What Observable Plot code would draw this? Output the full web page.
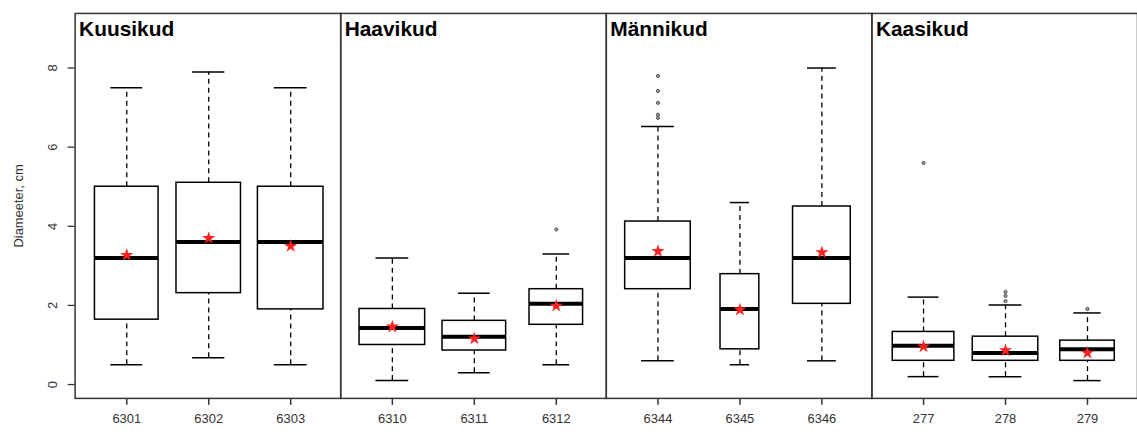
<!DOCTYPE html>
<html><head><meta charset="utf-8">
<script src="https://cdn.jsdelivr.net/npm/d3@7"></script>
<script src="https://cdn.jsdelivr.net/npm/@observablehq/plot@0.6"></script>
<style>html,body{margin:0;padding:0;overflow:hidden;background:#fff}</style>
</head><body><div id="chart"></div>
<script>
// Groups (forest types) and the sites (plots) within them
const groups = ["Kuusikud", "Haavikud", "Männikud", "Kaasikud"];
const sites = ["6301", "6302", "6303", "6310", "6311", "6312", "6344", "6345", "6346", "277", "278", "279"];
const siteGroup = ["Kuusikud", "Kuusikud", "Kuusikud", "Haavikud", "Haavikud", "Haavikud",
                   "Männikud", "Männikud", "Männikud", "Kaasikud", "Kaasikud", "Kaasikud"];
// Box statistics (diameter, cm)
const whiskerLow  = [0.5, 0.68, 0.5, 0.1, 0.3, 0.5, 0.6, 0.5, 0.6, 0.2, 0.2, 0.1];
const quart1      = [1.64, 2.31, 1.9, 1.0, 0.86, 1.51, 2.41, 0.89, 2.04, 0.6, 0.6, 0.6];
const medians     = [3.2, 3.6, 3.6, 1.43, 1.21, 2.04, 3.2, 1.91, 3.2, 0.98, 0.8, 0.89];
const quart3      = [5.0, 5.1, 5.0, 1.91, 1.61, 2.41, 4.12, 2.79, 4.5, 1.33, 1.21, 1.11];
const whiskerHigh = [7.5, 7.9, 7.5, 3.2, 2.31, 3.3, 6.52, 4.6, 8.0, 2.21, 2.01, 1.81];
const means       = [3.27, 3.7, 3.5, 1.46, 1.16, 1.99, 3.37, 1.89, 3.34, 0.96, 0.86, 0.8];
// Estimated relative sample sizes (box widths ~ sqrt(n), varwidth boxplot)
const sampleSize  = [113, 116, 120, 120, 113, 80, 120, 42, 93, 106, 120, 83];
// Outliers: site, value
const outlierSite  = ["6312", "6344", "6344", "6344", "6344", "6344", "277", "278", "278", "278", "279"];
const outlierValue = [3.92, 7.8, 7.42, 7.12, 6.82, 6.74, 5.6, 2.34, 2.24, 2.11, 1.91];
const yTicks = [0, 2, 4, 6, 8];

const maxN = d3.max(sampleSize);
const counter = {};
const rows = sites.map((s, i) => {
  const g = siteGroup[i];
  counter[g] = (counter[g] || 0) + 1;
  return {
    site: s, group: g, pos: counter[g],
    lo: whiskerLow[i], q1: quart1[i], med: medians[i], q3: quart3[i], hi: whiskerHigh[i],
    mean: means[i], hw: 0.4 * Math.sqrt(sampleSize[i] / maxN)
  };
});
const bySite = new Map(rows.map(r => [r.site, r]));
const outliers = outlierSite.map((s, i) => ({site: s, group: bySite.get(s).group, pos: bySite.get(s).pos, value: outlierValue[i]}));

const chart = Plot.plot({
  width: 1143, height: 434,
  marginLeft: 75, marginRight: 0, marginTop: 13, marginBottom: 34,
  style: {fontFamily: "'Liberation Sans', Arial, sans-serif", background: "#fff"},
  fx: {domain: groups, padding: 0, axis: null, label: null},
  x: {domain: [0.37, 3.61], axis: null},
  y: {domain: [-0.35, 9.38]},
  marks: [
    Plot.axisY({ticks: yTicks, tickRotate: -90, tickSize: 7, tickPadding: 11, fontSize: 13,
      stroke: "#333", strokeWidth: 1.3, color: "#333",
      label: "Diameeter, cm", labelAnchor: "center", labelArrow: "none", labelOffset: 62}),
    // whiskers
    Plot.ruleX(rows, {fx: "group", x: "pos", y1: "q3", y2: "hi", stroke: "black", strokeWidth: 1.3, strokeDasharray: "5,4"}),
    Plot.ruleX(rows, {fx: "group", x: "pos", y1: "lo", y2: "q1", stroke: "black", strokeWidth: 1.3, strokeDasharray: "5,4"}),
    // staples
    Plot.ruleY(rows, {fx: "group", y: "hi", x1: d => d.pos - d.hw / 2, x2: d => d.pos + d.hw / 2, stroke: "black", strokeWidth: 1.5}),
    Plot.ruleY(rows, {fx: "group", y: "lo", x1: d => d.pos - d.hw / 2, x2: d => d.pos + d.hw / 2, stroke: "black", strokeWidth: 1.5}),
    // boxes
    Plot.rect(rows, {fx: "group", x1: d => d.pos - d.hw, x2: d => d.pos + d.hw, y1: "q1", y2: "q3", fill: "white", stroke: "black", strokeWidth: 1.5}),
    // medians
    Plot.ruleY(rows, {fx: "group", y: "med", x1: d => d.pos - d.hw, x2: d => d.pos + d.hw, stroke: "black", strokeWidth: 4}),
    // outliers
    Plot.dot(outliers, {fx: "group", x: "pos", y: "value", r: 1.6, fill: "#999", stroke: "#555", strokeWidth: 1}),
    // means
    Plot.dot(rows, {fx: "group", x: "pos", y: "mean", symbol: "star", r: 4.2, fill: "#ff2020", stroke: "none"}),
    // x ticks and labels
    Plot.ruleX(rows, {fx: "group", x: "pos", insetTop: 387, insetBottom: -7, stroke: "#333", strokeWidth: 1.5}),
    Plot.text(rows, {fx: "group", x: "pos", text: "site", frameAnchor: "bottom", dy: 25, fontSize: 13, fill: "#333"}),
    // group titles
    Plot.text(groups, {fx: d => d, text: d => d, frameAnchor: "top-left", textAnchor: "start", lineAnchor: "top",
      dx: 4, dy: 8, fontSize: 21, fontWeight: "bold", fill: "black"}),
    Plot.frame({stroke: "#333", strokeWidth: 1.5})
  ]
});
document.getElementById("chart").appendChild(chart);
</script>
</body></html>
